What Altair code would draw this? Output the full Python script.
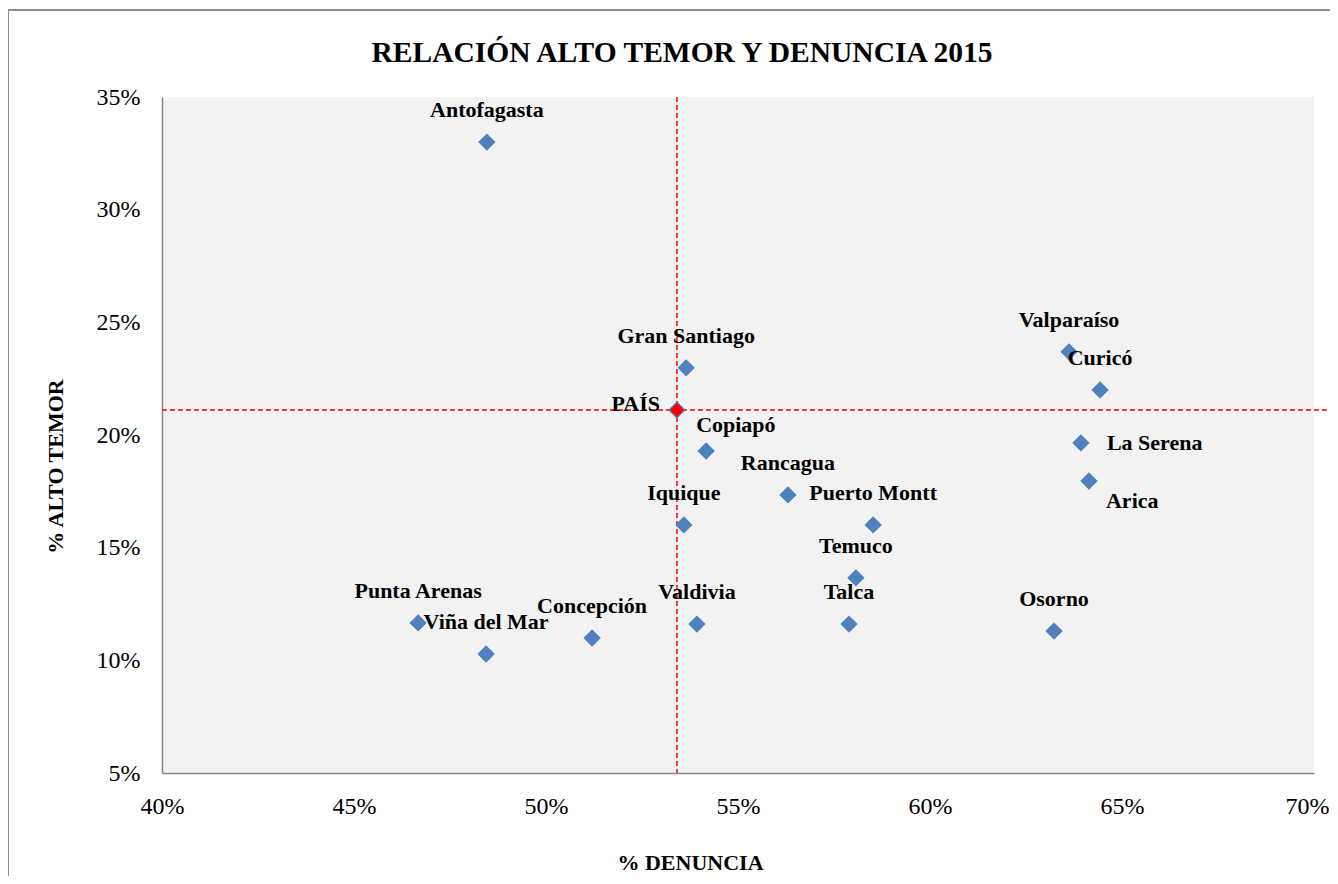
import altair as alt
import pandas as pd

# Data, values as fractions
ciudades = ["Antofagasta", "Gran Santiago", "PAÍS", "Copiapó", "Rancagua", "Iquique",
            "Puerto Montt", "Temuco", "Talca", "Valdivia", "Concepción", "Viña del Mar",
            "Punta Arenas", "Osorno", "Valparaíso", "Curicó", "La Serena", "Arica"]
denuncia = [0.4846, 0.5365, 0.5341, 0.5417, 0.5630, 0.5359,
            0.5852, 0.5807, 0.5789, 0.5393, 0.5120, 0.4844,
            0.4667, 0.6323, 0.6362, 0.6443, 0.6393, 0.6414]
alto_temor = [0.330, 0.2298, 0.2111, 0.1929, 0.1734, 0.1601,
              0.1601, 0.1366, 0.1161, 0.1161, 0.1099, 0.1028,
              0.1166, 0.1130, 0.2369, 0.2200, 0.1965, 0.1796]

x_ticks = [0.40, 0.45, 0.50, 0.55, 0.60, 0.65, 0.70]
y_ticks = [0.05, 0.10, 0.15, 0.20, 0.25, 0.30, 0.35]

titulo = "RELACIÓN ALTO TEMOR Y DENUNCIA 2015"

df = pd.DataFrame({"ciudad": ciudades, "denuncia": denuncia, "temor": alto_temor})
pais = df[df["ciudad"] == "PAÍS"].iloc[0]

FONT = "Liberation Serif"
W, H = 1152, 676

xs = alt.X("denuncia:Q",
           scale=alt.Scale(domain=[0.40, 0.70], nice=False, zero=False),
           axis=alt.Axis(values=x_ticks, format=".0%", title="% DENUNCIA",
                         grid=False, ticks=False, domainColor="#868686", domainWidth=1.5,
                         labelFont=FONT, labelFontSize=24, labelColor="#000000",
                         labelPadding=21, labelFlush=False,
                         labelOffset={"condition": {"test": "datum.value >= 0.699", "value": -7},
                                      "value": 0},
                         titleFont=FONT, titleFontSize=22, titleFontWeight="bold",
                         titleColor="#000000", titleX=528, titleY=89,
                         titleBaseline="middle", titleAlign="center"))
ys = alt.Y("temor:Q",
           scale=alt.Scale(domain=[0.05, 0.35], nice=False, zero=False),
           axis=alt.Axis(values=y_ticks, format=".0%", title="% ALTO TEMOR",
                         grid=False, ticks=False, domainColor="#868686", domainWidth=1.5,
                         labelFont=FONT, labelFontSize=24, labelColor="#000000",
                         labelPadding=22, labelFlush=False,
                         titleFont=FONT, titleFontSize=22, titleFontWeight="bold",
                         titleColor="#000000", titleX=-107, titleY=369,
                         titleAngle=-90, titleBaseline="middle", titleAlign="center"))

base = alt.Chart(df)

points = base.mark_point(shape="diamond", filled=True, size=300, color="#4F81BD",
                         opacity=1).encode(x=xs, y=ys)

pais_pt = base.transform_filter(alt.datum.ciudad == "PAÍS").mark_point(
    shape="diamond", filled=True, size=190, color="#FF0000", opacity=1
).encode(x="denuncia:Q", y="temor:Q")

txt = dict(font=FONT, fontSize=22, fontWeight="bold", color="#000000", baseline="middle")

above_names = ["Antofagasta", "Gran Santiago", "Rancagua", "Iquique", "Puerto Montt",
               "Temuco", "Talca", "Valdivia", "Concepción", "Viña del Mar",
               "Punta Arenas", "Osorno", "Valparaíso", "Curicó"]

lbl_above = base.transform_filter(alt.FieldOneOfPredicate(field="ciudad", oneOf=above_names)
    ).mark_text(align="center", dy=-32, **txt).encode(x="denuncia:Q", y="temor:Q", text="ciudad:N")
lbl_pais = base.transform_filter(alt.datum.ciudad == "PAÍS").mark_text(
    align="right", dx=-17, dy=-6, **txt).encode(x="denuncia:Q", y="temor:Q", text="ciudad:N")
lbl_copiapo = base.transform_filter(alt.datum.ciudad == "Copiapó").mark_text(
    align="left", dx=-10, dy=-26, **txt).encode(x="denuncia:Q", y="temor:Q", text="ciudad:N")
lbl_serena = base.transform_filter(alt.datum.ciudad == "La Serena").mark_text(
    align="left", dx=26, dy=0, **txt).encode(x="denuncia:Q", y="temor:Q", text="ciudad:N")
lbl_arica = base.transform_filter(alt.datum.ciudad == "Arica").mark_text(
    align="left", dx=17, dy=20, **txt).encode(x="denuncia:Q", y="temor:Q", text="ciudad:N")

ref_df = pd.DataFrame({"denuncia": [pais["denuncia"]], "temor": [pais["temor"]],
                       "titulo": [titulo]})
vline = alt.Chart(ref_df).mark_rule(color="#FF0000", strokeWidth=1.5, strokeDash=[5, 3]).encode(
    x="denuncia:Q", y=alt.value(0), y2=alt.value(H))
hline = alt.Chart(ref_df).mark_rule(color="#FF0000", strokeWidth=1.5, strokeDash=[5, 3]).encode(
    y="temor:Q", x=alt.value(0), x2=alt.value(1176))

frame_top = alt.Chart(ref_df).mark_rule(color="#8C8C8C", strokeWidth=2).encode(
    x=alt.value(-154), x2=alt.value(1200), y=alt.value(-87))
frame_left = alt.Chart(ref_df).mark_rule(color="#8C8C8C", strokeWidth=2).encode(
    x=alt.value(-154), y=alt.value(-87), y2=alt.value(800))

title_mark = alt.Chart(ref_df).mark_text(
    font=FONT, fontSize=29.5, fontWeight="bold", color="#000000",
    align="center", baseline="alphabetic"
).encode(x=alt.value(520), y=alt.value(-35), text="titulo:N")

chart = alt.layer(
    frame_top, frame_left, vline, hline, points, pais_pt,
    lbl_above, lbl_pais, lbl_copiapo, lbl_serena, lbl_arica, title_mark
).properties(
    width=W, height=H,
    autosize=alt.AutoSizeParams(type="none"),
    padding={"left": 154, "top": 89, "right": 16, "bottom": 103},
    background="#FFFFFF"
).configure_view(fill="#F2F2F2", stroke=None)

chart.save("out.html", embed_options={"renderer": "svg", "actions": False})
